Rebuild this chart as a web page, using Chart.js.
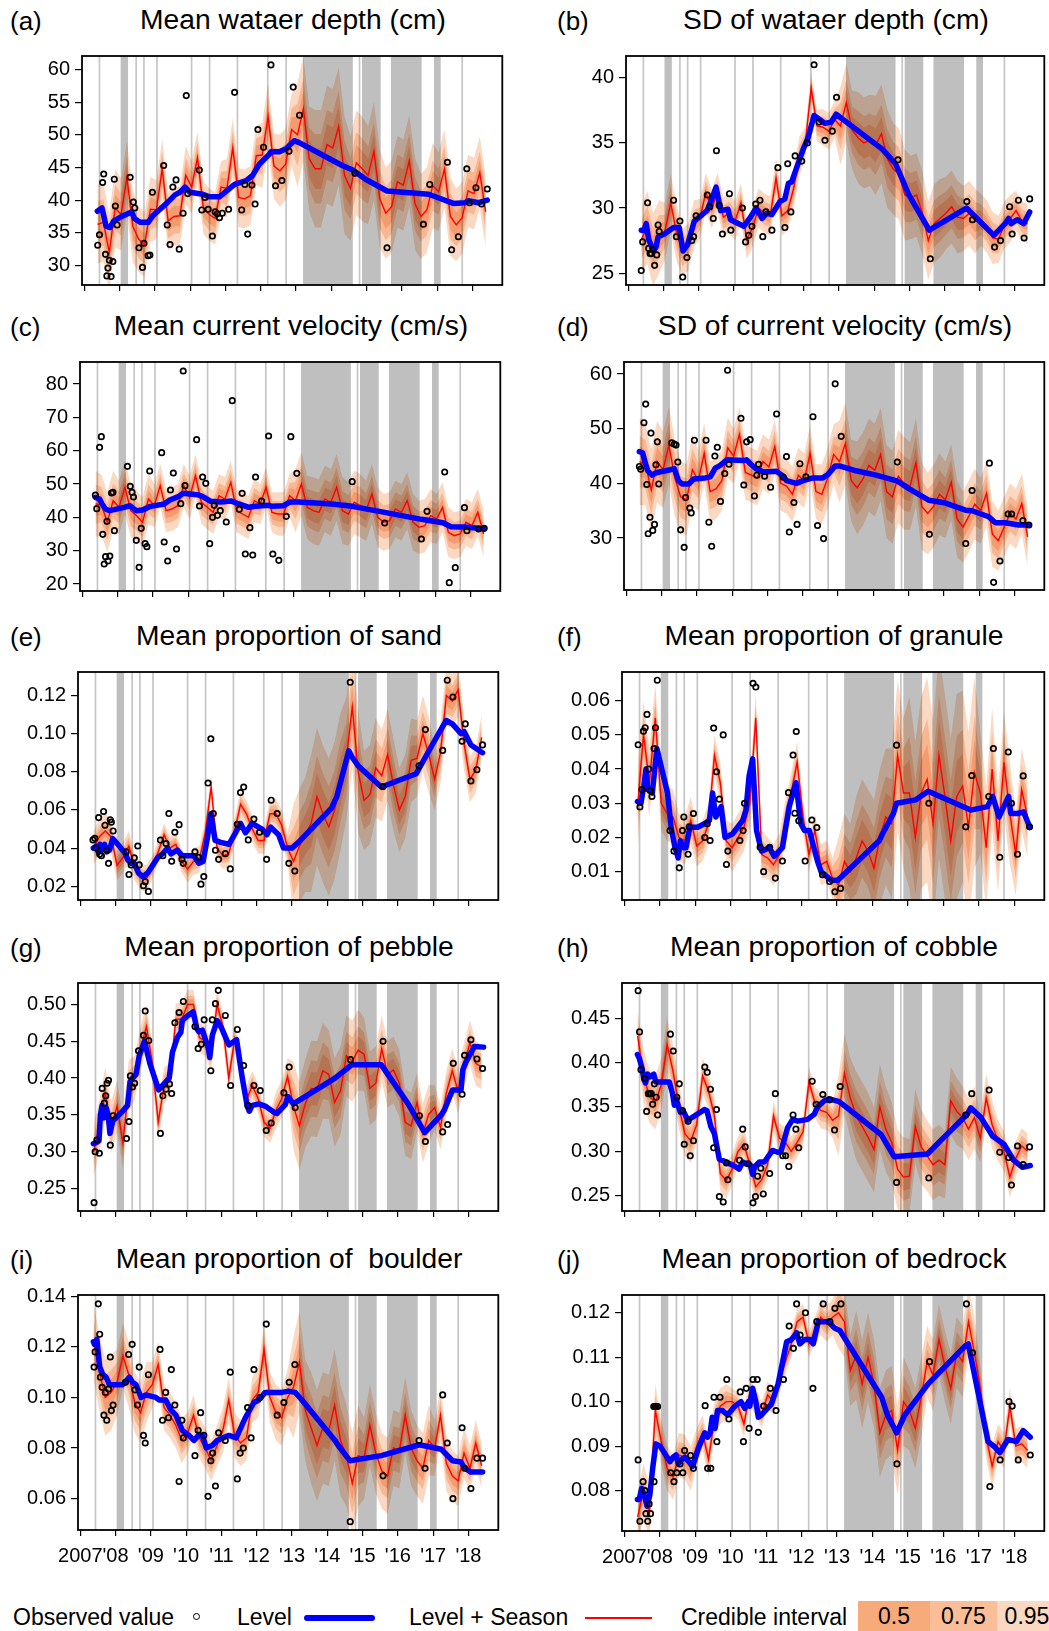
<!DOCTYPE html>
<html><head><meta charset="utf-8">
<script src="https://cdn.jsdelivr.net/npm/chart.js@4.4.1/dist/chart.umd.min.js"></script>
<style>
html,body{margin:0;padding:0;background:#fff;}
body{width:1049px;height:1631px;position:relative;overflow:hidden;font-family:"Liberation Sans",Arial,Helvetica,sans-serif;color:#000;}
canvas{position:absolute;}
.ttl{position:absolute;font-size:27px;line-height:27px;text-align:center;white-space:pre;transform:scaleX(1.045);transform-origin:center top;}
.lab{position:absolute;font-size:26px;line-height:26px;white-space:pre;}
.lg{position:absolute;font-size:23px;line-height:23px;white-space:pre;}
.box{position:absolute;font-size:23px;text-align:center;}
</style></head><body>
<script>
// ---------- shared time axis ----------
const YEARS = [2007,2008,2009,2010,2011,2012,2013,2014,2015,2016,2017,2018];
const YEAR_LABELS = ["2007","'08","'09","'10","'11","'12","'13","'14","'15","'16","'17","'18"];
// bimonthly model time steps (decimal year)
const T = [2007.375,2007.542,2007.708,2007.875,2008.042,2008.208,2008.375,2008.542,2008.708,2008.875,
2009.042,2009.208,2009.375,2009.542,2009.708,2009.875,2010.042,2010.208,2010.375,2010.542,
2010.708,2010.875,2011.042,2011.208,2011.375,2011.542,2011.708,2011.875,2012.042,2012.208,
2012.375,2012.542,2012.708,2012.875,2013.042,2013.208,2013.375,2013.542,2013.708,2013.875,
2014.042,2014.208,2014.375,2014.542,2014.708,2014.875,2015.042,2015.208,2015.375,2015.542,
2015.708,2015.875,2016.042,2016.208,2016.375,2016.542,2016.708,2016.875,2017.042,2017.208,
2017.375,2017.542,2017.708,2017.875,2018.042,2018.208,2018.375];
const GRAY_LINES = [2007.43,2008.47,2008.69,2009.06,2010.04,2010.55,2011.34,2012.20,2012.72,2014.80,2017.71];
const GRAY_SPANS = [[2008.03,2008.24],[2013.20,2014.61],[2014.87,2015.40],[2015.69,2016.56],[2016.91,2017.10]];

// ---------- (a) Mean water depth ----------
const seasonA = [36.3,36.6,32,38.8,37.8,43.5,36,34,33.2,38.6,38.5,44.8,36.8,37.5,37.6,43.8,42,46.5,38.8,37.8,37.2,42,41.8,48,40.4,40.2,40.7,46.8,46.9,52.8,45.2,44.5,45.5,50.8,50,54,46.3,44.8,44.8,48.5,48,51.3,43.8,41.8,45.7,44.8,43.8,47.5,40.2,38,39,42.8,42.3,46,39.4,37.5,38.5,42.2,41.3,44.8,37.5,36.2,37.3,41.4,41,44.2,38.2];
const levelA = [[2007.37,38.3],[2007.5,38.8],[2007.62,36.0],[2007.73,35.8],[2007.83,36.8],[2008.06,37.5],[2008.34,38.2],[2008.42,37.2],[2008.58,36.6],[2008.81,36.6],[2008.94,37.6],[2009.33,39.5],[2009.57,40.8],[2009.71,41.2],[2009.86,42.0],[2009.99,41.2],[2010.36,40.9],[2010.55,40.5],[2010.83,40.5],[2011.26,42.4],[2011.59,43.0],[2011.77,43.8],[2011.96,45.5],[2012.24,47.0],[2012.29,47.4],[2012.53,47.4],[2012.73,47.9],[2012.95,49.1],[2013.09,48.8],[2014.31,45.3],[2014.61,44.6],[2014.97,43.2],[2015.58,41.4],[2016.76,40.9],[2017.46,39.5],[2017.79,39.6],[2017.88,39.9],[2018.17,39.6],[2018.42,40.0]];
const obsA = [[2007.38,33.1],[2007.43,34.7],[2007.52,42.7],[2007.55,44.0],[2007.60,31.7],[2007.64,28.4],[2007.67,29.6],[2007.71,30.8],[2007.76,28.3],[2007.81,30.6],[2007.85,43.2],[2007.88,39.1],[2007.93,36.2],[2008.30,43.5],[2008.39,39.7],[2008.43,38.8],[2008.55,32.7],[2008.65,29.7],[2008.69,33.4],[2008.81,31.5],[2008.86,31.6],[2008.93,41.2],[2009.25,45.3],[2009.35,36.2],[2009.43,33.2],[2009.51,42.0],[2009.60,43.1],[2009.69,32.5],[2009.80,38.0],[2009.89,56.0],[2009.93,41.0],[2010.26,44.6],[2010.33,38.5],[2010.42,40.4],[2010.51,38.6],[2010.63,34.5],[2010.71,38.2],[2010.77,37.9],[2010.83,37.3],[2010.91,38.0],[2011.09,38.6],[2011.26,56.5],[2011.46,38.5],[2011.55,42.4],[2011.63,34.8],[2011.75,42.3],[2011.84,39.4],[2011.92,50.8],[2012.08,48.1],[2012.29,60.7],[2012.42,42.2],[2012.60,43.0],[2012.80,47.5],[2012.92,57.3],[2013.10,53.0],[2014.67,44.1],[2015.58,32.7],[2016.61,36.3],[2016.79,42.4],[2017.29,45.8],[2017.41,32.4],[2017.60,34.4],[2017.84,44.8],[2017.92,39.6],[2018.10,41.9],[2018.26,39.4],[2018.42,41.7]];
const ciA = [6,6,5.5,5,4.5,4.5,4,4,4.5,4.5,5,5.5,8,9,9,8,7.5,7,7,6.5,6,5.5,5.5];
const yTicksA = [30,35,40,45,50,55,60];

// ---------- (b) SD of water depth ----------
const seasonB = [27.6,28.5,26.8,27.8,28.2,30.4,28.1,26.6,27.0,28.8,29.2,31.2,29.9,31.2,29.3,29.6,29.0,30.4,27.6,28.5,30.0,29.6,29.4,32.3,29.4,29.8,31.5,34.0,35.0,39.2,36.3,36.2,35.9,36.8,36.3,38.1,36.0,35.4,35.0,35.2,34.8,35.7,33.8,33.0,32.6,31.0,30.8,31.0,29.6,27.5,28.8,29.2,29.6,30.1,29.3,29.2,29.6,29.0,29.1,28.6,27.7,27.6,28.7,29.2,29.8,29.0,28.8];
const levelB = [[2007.37,28.3],[2007.45,28.3],[2007.51,28.8],[2007.58,27.6],[2007.71,26.7],[2007.79,27.0],[2007.85,27.8],[2008.03,28.0],[2008.29,28.5],[2008.45,28.5],[2008.56,26.7],[2008.69,27.2],[2008.88,29.0],[2009.11,29.5],[2009.24,29.8],[2009.35,30.5],[2009.50,31.6],[2009.63,29.8],[2009.84,29.9],[2009.91,29.1],[2010.29,28.6],[2010.48,29.3],[2010.64,30.0],[2010.81,29.2],[2010.95,29.6],[2011.09,29.5],[2011.32,30.5],[2011.46,30.7],[2011.56,31.9],[2011.65,32.0],[2011.98,34.5],[2012.12,35.4],[2012.29,37.1],[2012.45,36.8],[2012.60,36.5],[2012.78,36.6],[2012.92,37.2],[2013.11,36.8],[2014.24,34.5],[2014.61,33.4],[2014.99,31.0],[2015.57,28.3],[2016.63,30.0],[2017.41,27.9],[2017.73,28.8],[2017.83,29.2],[2017.90,28.8],[2018.07,29.1],[2018.26,28.8],[2018.43,29.7]];
const obsB = [[2007.37,25.2],[2007.41,27.4],[2007.55,30.4],[2007.58,26.9],[2007.62,26.5],[2007.66,26.5],[2007.70,26.8],[2007.75,25.6],[2007.81,26.4],[2007.85,28.7],[2007.88,28.2],[2008.29,30.6],[2008.37,27.8],[2008.47,29.0],[2008.55,24.7],[2008.67,26.2],[2008.81,27.5],[2008.86,27.8],[2008.93,29.4],[2009.25,31.0],[2009.32,30.1],[2009.42,29.2],[2009.51,34.4],[2009.59,30.2],[2009.68,28.0],[2009.88,31.1],[2009.92,28.3],[2010.25,30.0],[2010.34,27.4],[2010.43,27.9],[2010.52,28.6],[2010.63,30.3],[2010.75,30.6],[2010.83,27.8],[2010.92,29.7],[2011.09,28.3],[2011.26,33.1],[2011.46,28.5],[2011.54,33.4],[2011.63,29.7],[2011.75,34.0],[2011.94,33.6],[2012.10,35.0],[2012.29,41.0],[2012.43,36.6],[2012.60,35.2],[2012.81,35.9],[2012.93,38.5],[2014.68,33.7],[2015.60,26.1],[2016.64,30.5],[2016.80,29.1],[2017.43,27.0],[2017.60,27.5],[2017.86,30.1],[2017.93,28.0],[2018.11,30.6],[2018.27,27.7],[2018.43,30.7]];
const ciB = [2.5,2.8,2.2,1.8,1.5,1.5,1.5,1.5,1.5,1.5,1.2,1.4,3,3.5,3.8,3.5,3.2,3,2.8,2.5,2,1.8,1.5];
const yTicksB = [25,30,35,40];

// ---------- (c) Mean current velocity ----------
const seasonC = [44,43.8,38.5,45,43,49,42,40.5,38.5,45.5,43.5,49.5,42,42.5,43.5,49.5,46,52.5,44.5,43,41.5,46.5,45.5,50.5,42,41,40,45,44,49,41.5,41,41,46.5,45,50,43,42,41.5,45.5,44.5,49,42,41,44.5,43.5,42,47,40,38.5,39,42.5,41.5,45,38.5,37,37.5,40.5,39.5,43,35.5,34.5,35,38.5,37.5,41.5,35];
const levelC = [[2007.37,46.0],[2007.49,45.5],[2007.56,44.0],[2007.66,42.5],[2007.77,42.0],[2007.91,42.3],[2008.19,43.0],[2008.35,43.5],[2008.43,42.8],[2008.52,42.0],[2008.71,42.2],[2008.90,43.2],[2009.32,44.0],[2009.48,45.2],[2009.74,46.3],[2009.86,47.2],[2010.26,46.8],[2010.40,46.3],[2010.64,44.8],[2010.92,44.6],[2011.22,44.9],[2011.39,44.2],[2011.72,43.0],[2011.91,43.3],[2012.28,43.6],[2012.38,43.3],[2012.70,43.5],[2012.89,44.6],[2013.13,44.6],[2014.07,44.0],[2014.65,43.3],[2015.57,41.5],[2016.61,39.4],[2017.22,38.4],[2017.45,37.2],[2017.83,37.1],[2018.39,36.6]];
const obsC = [[2007.37,46.7],[2007.41,42.6],[2007.49,61.0],[2007.54,64.2],[2007.58,34.9],[2007.62,26.0],[2007.66,28.2],[2007.70,38.8],[2007.73,26.9],[2007.78,28.4],[2007.83,47.3],[2007.87,47.5],[2007.91,36.0],[2008.28,55.3],[2008.36,49.3],[2008.41,47.5],[2008.45,46.1],[2008.53,33.1],[2008.61,25.0],[2008.67,36.7],[2008.78,32.1],[2008.83,31.2],[2008.91,53.9],[2009.25,59.4],[2009.32,32.6],[2009.42,26.9],[2009.50,48.2],[2009.58,53.3],[2009.67,30.5],[2009.79,44.1],[2009.86,83.9],[2009.91,49.5],[2010.24,63.3],[2010.32,43.4],[2010.41,52.1],[2010.50,50.2],[2010.61,32.1],[2010.69,40.0],[2010.74,43.6],[2010.83,40.6],[2010.91,42.0],[2011.08,38.6],[2011.25,75.0],[2011.45,42.4],[2011.53,47.2],[2011.62,29.0],[2011.75,36.9],[2011.83,28.7],[2011.91,52.1],[2012.08,44.9],[2012.28,64.4],[2012.40,29.0],[2012.57,27.1],[2012.78,40.3],[2012.91,64.2],[2013.08,53.2],[2014.65,50.7],[2015.57,38.3],[2016.61,33.5],[2016.77,41.8],[2017.27,53.6],[2017.40,20.4],[2017.57,24.9],[2017.83,42.9],[2017.90,36.0],[2018.23,36.5],[2018.39,36.7]];
const ciC = [10,9,8,7.5,6.5,6.5,6.5,6.5,6.5,6.5,6,6.5,9.5,10,10,9.5,9,8.5,8.5,8,7.5,7,7];
const yTicksC = [20,30,40,50,60,70,80];

// ---------- (d) SD of current velocity ----------
const seasonD = [44,43.5,38.8,44,42.5,47,41,37.5,37,42.5,40.5,45.5,38.5,39,40.5,46.5,45,49,42,41.5,41,44,43,46.7,40,39.5,38,41.5,40.5,45.5,38.5,38,41,45.3,44,47.3,40.5,39.2,40.8,43.3,42.4,45.3,38.5,37.5,41.3,40,39.5,43.8,35.8,34.5,35.8,38,37,40.2,33.5,32,34,36.2,35,38.2,30.7,29.5,32,34.5,33.5,36.3,30.2];
const levelD = [[2007.37,45.8],[2007.46,45.6],[2007.55,43.5],[2007.61,42.3],[2007.73,41.5],[2007.87,42.0],[2008.25,42.5],[2008.36,42.7],[2008.48,40.5],[2008.58,39.9],[2008.77,39.9],[2008.91,40.8],[2009.24,41.0],[2009.38,41.2],[2009.52,42.8],[2009.66,43.3],[2009.85,44.3],[2010.32,44.2],[2010.41,44.3],[2010.53,43.5],[2010.69,42.6],[2010.88,42.1],[2011.26,42.2],[2011.45,41.3],[2011.54,40.5],[2011.82,40.0],[2012.01,40.5],[2012.29,41.0],[2012.57,41.0],[2012.71,41.6],[2012.92,43.2],[2013.04,43.2],[2013.51,42.3],[2014.08,41.5],[2014.69,40.4],[2015.02,39.0],[2015.58,36.9],[2016.05,36.4],[2016.61,35.1],[2016.80,35.0],[2017.27,33.9],[2017.46,32.8],[2017.74,32.8],[2018.12,32.4],[2018.41,32.4]];
const obsD = [[2007.37,43.1],[2007.41,42.6],[2007.50,51.1],[2007.55,54.5],[2007.58,39.8],[2007.62,30.8],[2007.67,33.8],[2007.70,49.2],[2007.75,31.4],[2007.80,32.5],[2007.84,43.4],[2007.88,47.6],[2007.92,39.9],[2008.29,47.4],[2008.36,47.2],[2008.41,47.0],[2008.46,43.9],[2008.54,31.5],[2008.64,28.3],[2008.68,37.4],[2008.80,35.5],[2008.84,34.6],[2008.93,47.9],[2009.26,47.9],[2009.34,32.9],[2009.42,28.5],[2009.51,45.0],[2009.58,46.6],[2009.67,36.7],[2009.79,41.8],[2009.87,60.7],[2009.91,43.5],[2010.25,51.9],[2010.33,39.7],[2010.41,47.6],[2010.51,48.0],[2010.63,37.7],[2010.70,41.5],[2010.75,43.5],[2010.92,41.3],[2011.09,39.3],[2011.26,52.7],[2011.45,41.1],[2011.54,44.9],[2011.62,31.1],[2011.75,36.5],[2011.84,32.5],[2011.92,43.6],[2012.09,41.2],[2012.29,52.2],[2012.42,32.3],[2012.59,29.9],[2012.92,58.2],[2013.09,48.6],[2014.68,43.9],[2015.59,30.7],[2016.62,29.0],[2016.80,38.7],[2017.29,43.7],[2017.41,21.9],[2017.59,25.8],[2017.82,34.4],[2017.92,34.4],[2018.24,33.2],[2018.41,32.4]];
const ciD = [8,7.5,7,6.5,5.5,5.5,5,5,5,5,5,5.5,7.5,8.5,8.5,8.5,8,7.5,7,6.5,6,5.5,5.5];
const yTicksD = [30,40,50,60];

// ---------- (e) sand ----------
const seasonE = [0.040,0.046,0.049,0.046,0.031,0.035,0.041,0.030,0.025,0.024,0.030,0.038,0.047,0.040,0.042,0.033,0.029,0.033,0.034,0.048,0.072,0.040,0.036,0.037,0.049,0.063,0.058,0.050,0.044,0.044,0.058,0.058,0.052,0.040,0.033,0.041,0.047,0.053,0.067,0.058,0.051,0.060,0.075,0.087,0.114,0.080,0.065,0.068,0.082,0.078,0.089,0.073,0.060,0.067,0.086,0.087,0.100,0.089,0.076,0.090,0.120,0.117,0.123,0.095,0.076,0.081,0.098];
const levelE = [[2007.37,0.040],[2007.45,0.041],[2007.51,0.038],[2007.56,0.042],[2007.62,0.039],[2007.69,0.042],[2007.75,0.038],[2007.83,0.039],[2007.92,0.045],[2008.11,0.041],[2008.28,0.037],[2008.34,0.034],[2008.44,0.032],[2008.53,0.032],[2008.65,0.027],[2008.77,0.025],[2008.91,0.027],[2009.19,0.035],[2009.33,0.037],[2009.47,0.040],[2009.57,0.037],[2009.75,0.039],[2009.88,0.036],[2010.22,0.036],[2010.36,0.032],[2010.48,0.033],[2010.60,0.045],[2010.70,0.058],[2010.82,0.044],[2010.98,0.043],[2011.21,0.042],[2011.40,0.048],[2011.54,0.053],[2011.68,0.048],[2011.76,0.050],[2011.87,0.053],[2012.15,0.050],[2012.29,0.047],[2012.39,0.051],[2012.62,0.047],[2012.76,0.040],[2013.00,0.040],[2013.18,0.043],[2014.12,0.061],[2014.27,0.067],[2014.41,0.077],[2014.61,0.091],[2014.69,0.088],[2014.88,0.083],[2015.53,0.072],[2016.52,0.079],[2016.94,0.093],[2017.37,0.107],[2017.55,0.105],[2017.79,0.100],[2017.88,0.101],[2018.07,0.094],[2018.40,0.090]];
const obsE = [[2007.36,0.0443],[2007.41,0.0451],[2007.45,0.040],[2007.52,0.056],[2007.55,0.0368],[2007.60,0.036],[2007.66,0.0592],[2007.70,0.052],[2007.75,0.0389],[2007.80,0.032],[2007.85,0.0549],[2007.88,0.0536],[2007.93,0.049],[2008.30,0.0381],[2008.38,0.0262],[2008.44,0.0312],[2008.53,0.0349],[2008.63,0.0411],[2008.67,0.0312],[2008.79,0.0203],[2008.84,0.0224],[2008.93,0.0173],[2009.27,0.0442],[2009.34,0.036],[2009.43,0.0424],[2009.51,0.0581],[2009.59,0.0331],[2009.68,0.0483],[2009.80,0.0523],[2009.88,0.0342],[2009.92,0.032],[2010.25,0.0381],[2010.35,0.0352],[2010.42,0.0211],[2010.50,0.0251],[2010.62,0.0741],[2010.70,0.0973],[2010.77,0.0581],[2010.83,0.0389],[2010.92,0.0341],[2011.11,0.0371],[2011.25,0.0291],[2011.45,0.0525],[2011.54,0.0691],[2011.63,0.072],[2011.76,0.0443],[2011.92,0.0552],[2012.08,0.0483],[2012.28,0.0341],[2012.41,0.0651],[2012.58,0.0581],[2012.91,0.032],[2013.08,0.028],[2014.65,0.1269],[2015.58,0.0723],[2016.60,0.0832],[2016.78,0.1021],[2017.27,0.0912],[2017.40,0.128],[2017.56,0.1192],[2017.82,0.096],[2017.91,0.1051],[2018.07,0.0752],[2018.24,0.0811],[2018.40,0.0941]];
const ciE = [0.009,0.009,0.008,0.007,0.006,0.006,0.007,0.007,0.007,0.007,0.007,0.008,0.03,0.036,0.036,0.032,0.026,0.024,0.022,0.02,0.016,0.014,0.012];
const yTicksE = [0.02,0.04,0.06,0.08,0.10,0.12];

// ---------- (f) granule ----------
const seasonF = [0.029,0.050,0.036,0.055,0.030,0.027,0.026,0.020,0.019,0.025,0.0175,0.019,0.024,0.044,0.036,0.019,0.017,0.020,0.023,0.030,0.055,0.015,0.014,0.012,0.015,0.025,0.033,0.042,0.026,0.015,0.022,0.012,0.013,0.008,0.006,0.013,0.010,0.014,0.019,0.016,0.011,0.020,0.026,0.024,0.044,0.033,0.033,0.020,0.033,0.037,0.024,0.044,0.032,0.019,0.032,0.035,0.023,0.039,0.033,0.017,0.040,0.019,0.042,0.027,0.015,0.034,0.026];
const levelF = [[2007.37,0.0305],[2007.47,0.030],[2007.55,0.035],[2007.61,0.040],[2007.66,0.034],[2007.73,0.034],[2007.79,0.033],[2007.92,0.046],[2008.08,0.039],[2008.22,0.033],[2008.32,0.023],[2008.43,0.017],[2008.52,0.014],[2008.58,0.019],[2008.67,0.017],[2008.74,0.017],[2008.85,0.023],[2009.07,0.023],[2009.26,0.024],[2009.40,0.025],[2009.49,0.033],[2009.58,0.026],[2009.73,0.029],[2009.84,0.020],[2010.05,0.021],[2010.34,0.025],[2010.43,0.028],[2010.52,0.038],[2010.62,0.043],[2010.73,0.022],[2010.87,0.016],[2011.09,0.017],[2011.23,0.0145],[2011.46,0.017],[2011.65,0.029],[2011.84,0.036],[2011.98,0.024],[2012.08,0.022],[2012.22,0.022],[2012.45,0.013],[2012.55,0.010],[2012.83,0.0075],[2013.02,0.0075],[2014.19,0.019],[2014.28,0.021],[2014.59,0.027],[2014.68,0.030],[2015.22,0.031],[2015.57,0.0335],[2016.77,0.028],[2017.24,0.029],[2017.39,0.032],[2017.57,0.026],[2017.84,0.032],[2017.90,0.027],[2018.09,0.027],[2018.26,0.0275],[2018.44,0.023]];
const obsF = [[2007.39,0.0471],[2007.44,0.0289],[2007.50,0.034],[2007.54,0.0511],[2007.59,0.0521],[2007.64,0.056],[2007.69,0.040],[2007.73,0.0337],[2007.78,0.032],[2007.84,0.046],[2007.88,0.0521],[2007.93,0.066],[2008.29,0.022],[2008.40,0.016],[2008.55,0.0111],[2008.64,0.022],[2008.68,0.026],[2008.80,0.0151],[2008.83,0.0231],[2008.95,0.027],[2009.27,0.020],[2009.34,0.024],[2009.42,0.0191],[2009.52,0.052],[2009.60,0.0392],[2009.68,0.0312],[2009.79,0.050],[2009.88,0.0121],[2009.92,0.016],[2010.26,0.0191],[2010.35,0.022],[2010.39,0.030],[2010.63,0.0651],[2010.71,0.064],[2010.83,0.0171],[2010.93,0.010],[2011.10,0.0171],[2011.26,0.0081],[2011.46,0.0131],[2011.63,0.0331],[2011.76,0.0441],[2011.81,0.0271],[2011.85,0.051],[2011.92,0.0249],[2012.10,0.0131],[2012.29,0.0251],[2012.43,0.0229],[2012.59,0.0091],[2012.79,0.0071],[2012.94,0.0041],[2013.10,0.0051],[2014.68,0.047],[2015.59,0.030],[2016.63,0.0231],[2016.80,0.0381],[2017.28,0.032],[2017.41,0.046],[2017.59,0.0142],[2017.83,0.045],[2017.92,0.030],[2018.09,0.0151],[2018.25,0.038],[2018.43,0.0231]];
const ciF = [0.012,0.01,0.008,0.007,0.006,0.006,0.007,0.007,0.006,0.006,0.005,0.006,0.014,0.018,0.02,0.022,0.028,0.03,0.03,0.028,0.018,0.015,0.012];
const yTicksF = [0.01,0.02,0.03,0.04,0.05,0.06];

// ---------- (g) pebble ----------
const seasonG = [0.300,0.335,0.380,0.333,0.362,0.312,0.390,0.400,0.440,0.470,0.420,0.340,0.390,0.398,0.480,0.480,0.500,0.500,0.455,0.450,0.430,0.500,0.470,0.400,0.453,0.420,0.370,0.390,0.372,0.340,0.332,0.356,0.372,0.402,0.362,0.335,0.365,0.386,0.385,0.410,0.405,0.367,0.383,0.430,0.423,0.438,0.432,0.386,0.393,0.440,0.405,0.411,0.393,0.340,0.335,0.367,0.325,0.351,0.360,0.333,0.380,0.410,0.382,0.418,0.448,0.420,0.415];
const levelG = [[2007.37,0.311],[2007.47,0.313],[2007.53,0.315],[2007.57,0.350],[2007.62,0.363],[2007.67,0.346],[2007.73,0.360],[2007.79,0.350],[2007.84,0.325],[2007.92,0.342],[2008.20,0.355],[2008.34,0.363],[2008.41,0.395],[2008.48,0.400],[2008.58,0.405],[2008.67,0.430],[2008.82,0.450],[2008.97,0.420],[2009.22,0.384],[2009.52,0.400],[2009.61,0.435],[2009.75,0.455],[2009.85,0.462],[2009.89,0.478],[2010.05,0.485],[2010.20,0.490],[2010.30,0.467],[2010.36,0.463],[2010.46,0.465],[2010.63,0.440],[2010.67,0.428],[2010.74,0.458],[2010.88,0.478],[2011.00,0.468],[2011.21,0.445],[2011.30,0.448],[2011.43,0.452],[2011.59,0.400],[2011.73,0.362],[2011.79,0.355],[2011.87,0.363],[2012.06,0.365],[2012.24,0.362],[2012.51,0.353],[2012.57,0.352],[2012.81,0.364],[2012.88,0.375],[2013.04,0.365],[2014.22,0.400],[2014.69,0.418],[2015.53,0.418],[2016.29,0.365],[2016.76,0.326],[2017.23,0.350],[2017.32,0.357],[2017.55,0.384],[2017.79,0.384],[2017.84,0.411],[2017.93,0.422],[2018.17,0.443],[2018.43,0.442]];
const obsG = [[2007.39,0.231],[2007.42,0.300],[2007.47,0.316],[2007.54,0.298],[2007.62,0.386],[2007.68,0.366],[2007.72,0.376],[2007.76,0.393],[2007.80,0.397],[2007.85,0.309],[2007.93,0.349],[2008.31,0.318],[2008.38,0.341],[2008.42,0.403],[2008.48,0.388],[2008.54,0.393],[2008.65,0.437],[2008.79,0.458],[2008.84,0.491],[2008.94,0.451],[2009.27,0.325],[2009.34,0.376],[2009.43,0.385],[2009.53,0.392],[2009.59,0.379],[2009.68,0.475],[2009.80,0.489],[2009.92,0.504],[2010.25,0.470],[2010.34,0.440],[2010.43,0.446],[2010.51,0.479],[2010.70,0.410],[2010.74,0.479],[2010.83,0.501],[2010.91,0.519],[2011.11,0.485],[2011.26,0.390],[2011.45,0.466],[2011.63,0.417],[2011.75,0.363],[2011.92,0.390],[2012.10,0.383],[2012.27,0.329],[2012.41,0.339],[2012.77,0.380],[2012.92,0.415],[2013.09,0.360],[2014.66,0.425],[2015.58,0.450],[2016.61,0.349],[2016.78,0.314],[2017.27,0.327],[2017.41,0.337],[2017.57,0.420],[2017.82,0.378],[2017.89,0.431],[2018.07,0.452],[2018.24,0.426],[2018.40,0.413]];
const ciG = [0.035,0.035,0.035,0.03,0.025,0.022,0.02,0.02,0.02,0.02,0.02,0.025,0.06,0.065,0.06,0.055,0.05,0.045,0.045,0.04,0.03,0.03,0.03];
const yTicksG = [0.25,0.30,0.35,0.40,0.45,0.50];

// ---------- (h) cobble ----------
const seasonH = [0.430,0.385,0.362,0.355,0.375,0.420,0.390,0.350,0.320,0.312,0.330,0.385,0.368,0.340,0.275,0.267,0.280,0.300,0.308,0.285,0.260,0.268,0.285,0.340,0.315,0.310,0.300,0.310,0.322,0.378,0.355,0.346,0.344,0.335,0.340,0.388,0.360,0.340,0.328,0.316,0.302,0.350,0.325,0.310,0.280,0.271,0.272,0.328,0.305,0.295,0.285,0.290,0.285,0.357,0.345,0.338,0.325,0.338,0.315,0.360,0.330,0.312,0.300,0.271,0.292,0.306,0.300];
const levelH = [[2007.37,0.409],[2007.42,0.405],[2007.49,0.395],[2007.56,0.380],[2007.60,0.377],[2007.66,0.387],[2007.73,0.384],[2007.83,0.387],[2007.89,0.378],[2007.99,0.378],[2008.27,0.378],[2008.36,0.365],[2008.41,0.352],[2008.46,0.359],[2008.58,0.344],[2008.67,0.345],[2008.79,0.335],[2009.26,0.347],[2009.33,0.346],[2009.44,0.328],[2009.54,0.320],[2009.68,0.291],[2009.82,0.289],[2009.91,0.287],[2010.08,0.284],[2010.24,0.280],[2010.34,0.288],[2010.43,0.286],[2010.55,0.285],[2010.62,0.274],[2010.68,0.283],[2010.81,0.288],[2010.95,0.288],[2011.18,0.301],[2011.32,0.299],[2011.42,0.300],[2011.61,0.327],[2011.75,0.336],[2011.89,0.334],[2012.17,0.336],[2012.36,0.342],[2012.45,0.350],[2012.64,0.357],[2012.78,0.359],[2013.06,0.356],[2014.24,0.319],[2014.61,0.294],[2015.55,0.297],[2016.02,0.316],[2016.68,0.342],[2016.77,0.349],[2017.06,0.338],[2017.39,0.317],[2017.71,0.308],[2017.98,0.290],[2018.23,0.282],[2018.45,0.284]];
const obsH = [[2007.39,0.481],[2007.43,0.4345],[2007.47,0.392],[2007.58,0.382],[2007.63,0.345],[2007.68,0.365],[2007.72,0.365],[2007.76,0.365],[2007.80,0.353],[2007.85,0.376],[2007.90,0.361],[2007.94,0.341],[2008.30,0.432],[2008.38,0.413],[2008.48,0.361],[2008.55,0.376],[2008.64,0.346],[2008.69,0.308],[2008.80,0.334],[2008.86,0.295],[2008.95,0.312],[2009.27,0.395],[2009.34,0.389],[2009.43,0.370],[2009.52,0.304],[2009.60,0.347],[2009.68,0.249],[2009.79,0.243],[2009.88,0.287],[2009.92,0.268],[2010.25,0.290],[2010.34,0.325],[2010.41,0.305],[2010.49,0.286],[2010.63,0.242],[2010.70,0.249],[2010.76,0.272],[2010.85,0.281],[2010.92,0.252],[2011.10,0.275],[2011.26,0.365],[2011.47,0.295],[2011.55,0.295],[2011.64,0.283],[2011.76,0.341],[2011.84,0.325],[2011.92,0.304],[2012.30,0.379],[2012.41,0.353],[2012.60,0.364],[2012.79,0.358],[2012.93,0.324],[2013.09,0.373],[2014.68,0.265],[2015.59,0.270],[2016.63,0.341],[2016.80,0.365],[2017.29,0.369],[2017.59,0.299],[2017.84,0.293],[2017.92,0.262],[2018.09,0.306],[2018.25,0.285],[2018.43,0.305]];
const ciH = [0.03,0.03,0.03,0.025,0.02,0.02,0.017,0.017,0.017,0.017,0.017,0.02,0.045,0.05,0.048,0.045,0.042,0.04,0.038,0.035,0.027,0.023,0.02];
const yTicksH = [0.25,0.30,0.35,0.40,0.45];

// ---------- (i) boulder ----------
const seasonI = [0.122,0.110,0.100,0.102,0.106,0.1165,0.109,0.098,0.094,0.102,0.105,0.113,0.096,0.093,0.089,0.083,0.086,0.093,0.084,0.080,0.075,0.081,0.087,0.099,0.085,0.082,0.084,0.099,0.102,0.119,0.100,0.094,0.092,0.100,0.104,0.114,0.095,0.088,0.081,0.088,0.087,0.097,0.083,0.077,0.066,0.077,0.076,0.089,0.078,0.071,0.069,0.080,0.079,0.093,0.080,0.075,0.072,0.083,0.080,0.093,0.074,0.069,0.067,0.078,0.072,0.082,0.073];
const levelI = [[2007.37,0.122],[2007.40,0.121],[2007.47,0.123],[2007.55,0.112],[2007.64,0.109],[2007.73,0.108],[2007.83,0.105],[2007.92,0.105],[2008.20,0.105],[2008.39,0.108],[2008.48,0.106],[2008.58,0.105],[2008.72,0.100],[2008.86,0.101],[2009.14,0.100],[2009.24,0.099],[2009.42,0.099],[2009.57,0.095],[2009.71,0.093],[2009.89,0.087],[2010.08,0.085],[2010.22,0.083],[2010.35,0.085],[2010.46,0.085],[2010.57,0.080],[2010.74,0.081],[2010.88,0.083],[2011.21,0.085],[2011.42,0.084],[2011.68,0.092],[2011.92,0.098],[2012.06,0.099],[2012.24,0.102],[2012.71,0.102],[2012.90,0.1025],[2013.09,0.102],[2013.28,0.099],[2014.22,0.083],[2014.31,0.081],[2014.64,0.075],[2015.53,0.077],[2016.61,0.0813],[2017.23,0.0795],[2017.55,0.075],[2017.79,0.0745],[2017.88,0.0722],[2018.07,0.0705],[2018.40,0.0705]];
const obsI = [[2007.39,0.112],[2007.42,0.118],[2007.51,0.137],[2007.55,0.125],[2007.57,0.108],[2007.62,0.104],[2007.67,0.093],[2007.71,0.102],[2007.75,0.091],[2007.80,0.1033],[2007.85,0.116],[2007.88,0.0948],[2007.93,0.097],[2008.28,0.106],[2008.37,0.117],[2008.47,0.121],[2008.55,0.103],[2008.62,0.097],[2008.67,0.112],[2008.79,0.085],[2008.84,0.082],[2008.93,0.109],[2009.26,0.119],[2009.33,0.091],[2009.42,0.102],[2009.50,0.092],[2009.58,0.111],[2009.68,0.097],[2009.80,0.0668],[2009.88,0.091],[2009.92,0.084],[2010.25,0.077],[2010.34,0.087],[2010.41,0.094],[2010.50,0.085],[2010.62,0.0609],[2010.70,0.075],[2010.75,0.078],[2010.83,0.065],[2010.92,0.086],[2011.11,0.083],[2011.25,0.110],[2011.45,0.0678],[2011.53,0.078],[2011.62,0.080],[2011.74,0.096],[2011.84,0.084],[2011.92,0.111],[2012.09,0.100],[2012.27,0.129],[2012.58,0.093],[2012.77,0.098],[2012.92,0.106],[2013.08,0.113],[2014.65,0.0509],[2015.58,0.069],[2016.60,0.083],[2016.77,0.072],[2017.27,0.101],[2017.40,0.082],[2017.56,0.060],[2017.82,0.088],[2017.89,0.072],[2018.07,0.064],[2018.24,0.076],[2018.40,0.076]];
const ciI = [0.015,0.015,0.013,0.012,0.009,0.009,0.008,0.008,0.009,0.009,0.01,0.011,0.02,0.022,0.022,0.02,0.016,0.015,0.015,0.014,0.011,0.01,0.009];
const yTicksI = [0.06,0.08,0.10,0.12,0.14];

// ---------- (j) bedrock ----------
const seasonJ = [0.074,0.080,0.075,0.098,0.091,0.085,0.083,0.088,0.0875,0.085,0.090,0.093,0.087,0.096,0.099,0.100,0.100,0.099,0.095,0.102,0.100,0.097,0.1015,0.100,0.105,0.109,0.113,0.118,0.119,0.113,0.116,0.119,0.1175,0.119,0.120,0.118,0.107,0.1105,0.104,0.110,0.104,0.093,0.097,0.098,0.089,0.100,0.098,0.094,0.101,0.109,0.106,0.114,0.108,0.103,0.111,0.109,0.118,0.111,0.103,0.092,0.0855,0.091,0.089,0.099,0.090,0.0905,0.089];
const levelJ = [[2007.37,0.078],[2007.42,0.078],[2007.49,0.0805],[2007.58,0.0785],[2007.64,0.0765],[2007.72,0.079],[2007.80,0.085],[2007.89,0.0905],[2008.01,0.090],[2008.29,0.0865],[2008.38,0.0875],[2008.46,0.088],[2008.52,0.086],[2008.62,0.087],[2008.71,0.0875],[2008.93,0.0855],[2009.09,0.0895],[2009.27,0.093],[2009.35,0.092],[2009.42,0.093],[2009.48,0.0965],[2009.56,0.094],[2009.63,0.098],[2009.77,0.098],[2009.91,0.097],[2010.12,0.099],[2010.29,0.100],[2010.40,0.0985],[2010.50,0.100],[2010.54,0.099],[2010.62,0.103],[2010.71,0.100],[2010.78,0.0965],[2010.87,0.097],[2011.15,0.0995],[2011.34,0.104],[2011.58,0.1135],[2011.72,0.114],[2011.86,0.1155],[2011.95,0.113],[2012.09,0.114],[2012.23,0.114],[2012.33,0.113],[2012.47,0.118],[2012.61,0.118],[2012.75,0.118],[2012.94,0.1165],[2013.08,0.116],[2014.26,0.101],[2014.42,0.097],[2014.68,0.093],[2014.91,0.097],[2015.57,0.104],[2016.61,0.1125],[2016.70,0.113],[2016.98,0.102],[2017.26,0.091],[2017.45,0.0898],[2017.59,0.0885],[2017.82,0.0915],[2018.06,0.091],[2018.25,0.0935],[2018.45,0.092]];
const obsJ = [[2007.39,0.0869],[2007.44,0.0731],[2007.53,0.082],[2007.58,0.080],[2007.61,0.0748],[2007.66,0.0731],[2007.70,0.077],[2007.74,0.0748],[2007.83,0.0989],[2007.84,0.082],[2007.86,0.0989],[2007.90,0.0989],[2007.94,0.0989],[2008.31,0.084],[2008.40,0.082],[2008.48,0.084],[2008.57,0.086],[2008.65,0.084],[2008.70,0.089],[2008.87,0.0879],[2008.95,0.085],[2009.28,0.0991],[2009.35,0.085],[2009.44,0.085],[2009.53,0.101],[2009.61,0.091],[2009.70,0.101],[2009.89,0.105],[2009.95,0.0961],[2010.27,0.1022],[2010.36,0.091],[2010.44,0.103],[2010.52,0.094],[2010.63,0.105],[2010.75,0.105],[2010.78,0.0931],[2010.93,0.099],[2011.12,0.103],[2011.28,0.098],[2011.49,0.105],[2011.65,0.117],[2011.77,0.112],[2011.86,0.122],[2011.96,0.115],[2012.11,0.120],[2012.32,0.103],[2012.43,0.118],[2012.61,0.122],[2012.80,0.118],[2012.94,0.121],[2013.11,0.122],[2014.69,0.086],[2015.61,0.109],[2016.65,0.122],[2016.82,0.111],[2017.31,0.0809],[2017.60,0.0869],[2017.85,0.100],[2017.94,0.099],[2018.11,0.0869],[2018.45,0.088]];
const ciJ = [0.006,0.006,0.005,0.005,0.004,0.004,0.003,0.003,0.003,0.003,0.003,0.004,0.008,0.01,0.01,0.01,0.009,0.008,0.008,0.008,0.005,0.004,0.004];
const yTicksJ = [0.08,0.09,0.10,0.11,0.12];

// ---------- panel table (built from the arrays above) ----------
const PANELS = [
 {lab:'(a)',title:'Mean wataer depth (cm)',s:seasonA,l:levelA,o:obsA,ci:ciA,yt:yTicksA,dec:0,min:27.01,max:62.06,L:82,R:504,T:42,B:292,col:0,bottom:false},
 {lab:'(b)',title:'SD of wataer depth (cm)',s:seasonB,l:levelB,o:obsB,ci:ciB,yt:yTicksB,dec:0,min:24.09,max:41.67,L:626,R:1046,T:42,B:292,col:1,bottom:false},
 {lab:'(c)',title:'Mean current velocity (cm/s)',s:seasonC,l:levelC,o:obsC,ci:ciC,yt:yTicksC,dec:0,min:17.9,max:86.6,L:80,R:502,T:348,B:598,col:0,bottom:false},
 {lab:'(d)',title:'SD of current velocity (cm/s)',s:seasonD,l:levelD,o:obsD,ci:ciD,yt:yTicksD,dec:0,min:20.5,max:62.2,L:624,R:1046,T:348,B:597,col:1,bottom:false},
 {lab:'(e)',title:'Mean proportion of sand',s:seasonE,l:levelE,o:obsE,ci:ciE,yt:yTicksE,dec:2,min:0.0128,max:0.1323,L:78,R:500,T:658,B:907,col:0,bottom:false},
 {lab:'(f)',title:'Mean proportion of granule',s:seasonF,l:levelF,o:obsF,ci:ciF,yt:yTicksF,dec:2,min:0.0017,max:0.0684,L:622,R:1046,T:658,B:907,col:1,bottom:false},
 {lab:'(g)',title:'Mean proportion of pebble',s:seasonG,l:levelG,o:obsG,ci:ciG,yt:yTicksG,dec:2,min:0.2197,max:0.529,L:78,R:500,T:969,B:1218,col:0,bottom:false},
 {lab:'(h)',title:'Mean proportion of cobble',s:seasonH,l:levelH,o:obsH,ci:ciH,yt:yTicksH,dec:2,min:0.2328,max:0.4896,L:622,R:1046,T:969,B:1218,col:1,bottom:false},
 {lab:'(i)',title:'Mean proportion of  boulder',s:seasonI,l:levelI,o:obsI,ci:ciI,yt:yTicksI,dec:2,min:0.0476,max:0.1405,L:78,R:500,T:1281,B:1530,col:0,bottom:true},
 {lab:'(j)',title:'Mean proportion of bedrock',s:seasonJ,l:levelJ,o:obsJ,ci:ciJ,yt:yTicksJ,dec:2,min:0.0709,max:0.124,L:622,R:1046,T:1281,B:1531,col:1,bottom:true}
];

const FONT = '"Liberation Sans", Arial, Helvetica, sans-serif';
const X_MIN = 2006.935, X_MAX = 2018.846;
const BAND = 'rgba(244,133,63,0.32)';
const BAND_LEVELS = [{f:1,order:7},{f:0.59,order:6},{f:0.345,order:5}];
const YW = 62;

function ciAt(ci, t){ const i = Math.floor((t-2007)*2); return ci[Math.max(0,Math.min(ci.length-1,i))]; }

const panelPlugin = {
  id:'panelDecor',
  beforeDatasetsDraw(chart){
    const {ctx, chartArea:a, scales:{x}} = chart;
    ctx.save();
    ctx.beginPath(); ctx.rect(a.left,a.top,a.right-a.left,a.bottom-a.top); ctx.clip();
    ctx.fillStyle = '#bfbfbf';
    GRAY_SPANS.forEach(([s,e])=>{ const x0=x.getPixelForValue(s), x1=x.getPixelForValue(e); ctx.fillRect(x0,a.top,x1-x0,a.bottom-a.top); });
    ctx.strokeStyle = '#c6c6c6'; ctx.lineWidth = 1.7;
    GRAY_LINES.forEach(v=>{ const px=x.getPixelForValue(v); ctx.beginPath(); ctx.moveTo(px,a.top); ctx.lineTo(px,a.bottom); ctx.stroke(); });
    ctx.restore();
    // credible-interval bands are blended (multiply) over the shaded background
    ctx.globalCompositeOperation = 'multiply';
  },
  beforeDatasetDraw(chart, args){
    if (args.index < 3) chart.ctx.globalCompositeOperation = 'source-over';
  },
  afterDatasetsDraw(chart){ chart.ctx.globalCompositeOperation = 'source-over'; },
  afterDraw(chart){
    const {ctx, chartArea:a} = chart;
    ctx.save(); ctx.globalCompositeOperation='source-over'; ctx.strokeStyle='#000'; ctx.lineWidth=1.8;
    ctx.strokeRect(a.left, a.top, a.right-a.left, a.bottom-a.top);
    ctx.restore();
  }
};

PANELS.forEach(p=>{
  const xh = p.bottom ? 44 : 10;
  const cv = document.createElement('canvas');
  const w = p.R - p.L + YW + 4, h = p.B - p.T + 3 + xh;
  cv.width = w; cv.height = h;
  cv.style.left = (p.L - YW) + 'px'; cv.style.top = (p.T - 3) + 'px';
  cv.style.width = w+'px'; cv.style.height = h+'px';
  document.body.appendChild(cv);

  const ttl = document.createElement('div');
  ttl.className='ttl'; ttl.textContent = p.title;
  ttl.style.left = p.L+'px'; ttl.style.width=(p.R-p.L)+'px'; ttl.style.top=(p.T-35)+'px';
  document.body.appendChild(ttl);
  const lab = document.createElement('div');
  lab.className='lab'; lab.textContent = p.lab;
  lab.style.left = (p.col ? 557 : 10)+'px'; lab.style.top=(p.T-34)+'px';
  document.body.appendChild(lab);

  const ds = [];
  ds.push({data:p.o.map(([t,v])=>({x:t,y:v})), showLine:false, pointRadius:2.7, pointBorderWidth:1.7, pointBorderColor:'#000', pointBackgroundColor:'rgba(0,0,0,0)', order:0});
  ds.push({data:p.l.map(([t,v])=>({x:t,y:v})), borderColor:'#0000ff', borderWidth:5.5, pointRadius:0, borderJoinStyle:'round', borderCapStyle:'round', order:1});
  ds.push({data:T.map((t,k)=>({x:t,y:p.s[k]})), borderColor:'#ff0000', borderWidth:1.4, pointRadius:0, order:2});
  BAND_LEVELS.forEach(b=>{
    ds.push({data:T.map((t,k)=>({x:t,y:p.s[k]+b.f*ciAt(p.ci,t)})), fill:'+1', backgroundColor:BAND, borderWidth:0, pointRadius:0, order:b.order});
    ds.push({data:T.map((t,k)=>({x:t,y:p.s[k]-b.f*ciAt(p.ci,t)})), fill:false, borderWidth:0, pointRadius:0, order:b.order});
  });

  new Chart(cv, {
    type:'line',
    data:{datasets:ds},
    options:{
      responsive:false, animation:false, devicePixelRatio:1,
      layout:{padding:{top:3,right:4,left:0,bottom:0}},
      plugins:{legend:{display:false}, tooltip:{enabled:false}, filler:{propagate:false}},
      elements:{line:{tension:0}},
      scales:{
        x:{type:'linear', min:X_MIN, max:X_MAX,
           afterBuildTicks:s=>{ s.ticks = YEARS.map(v=>({value:v})); },
           afterFit:s=>{ s.height = xh; },
           grid:{drawOnChartArea:false, drawTicks:true, tickLength:6, color:'#000', lineWidth:1.2},
           border:{display:false},
           ticks:{autoSkip:false, maxRotation:0, minRotation:0, padding:8, color:'#000', font:{size:20,family:FONT},
                  callback:(v)=> p.bottom ? YEAR_LABELS[YEARS.indexOf(v)] : ''}},
        y:{type:'linear', min:p.min, max:p.max,
           afterBuildTicks:s=>{ s.ticks = p.yt.map(v=>({value:v})); },
           afterFit:s=>{ s.width = YW; },
           grid:{drawOnChartArea:false, drawTicks:true, tickLength:7, color:'#000', lineWidth:1.2},
           border:{display:false},
           ticks:{padding:5, color:'#000', font:{size:20,family:FONT}, callback:v=> Number(v).toFixed(p.dec)}}
      }
    },
    plugins:[panelPlugin]
  });
});

// ---------- legend ----------
function el(cls, txt, css){ const d=document.createElement('div'); d.className=cls; if(txt!==null) d.textContent=txt; Object.assign(d.style, css); document.body.appendChild(d); return d; }
el('lg','Observed value',{left:'13px',top:'1606px'});
el('lg',null,{left:'193px',top:'1613px',width:'5px',height:'5px',border:'1.6px solid #000',borderRadius:'50%'});
el('lg','Level',{left:'237px',top:'1606px'});
el('lg',null,{left:'304px',top:'1615px',width:'71px',height:'6px',background:'#0000ff',borderRadius:'3px'});
el('lg','Level + Season',{left:'409px',top:'1606px'});
el('lg',null,{left:'585px',top:'1617px',width:'67px',height:'1.5px',background:'#ff0000'});
el('lg','Credible interval',{left:'681px',top:'1606px'});
el('box','0.5',{left:'858px',top:'1601px',width:'72px',height:'30px',lineHeight:'30px',background:'rgb(247,171,123)'});
el('box','0.75',{left:'930px',top:'1601px',width:'67px',height:'30px',lineHeight:'30px',background:'rgb(249,189,152)'});
el('box','0.95',{left:'997px',top:'1601px',width:'60px',height:'30px',lineHeight:'30px',background:'rgb(251,216,194)'});
</script>
</body></html>
